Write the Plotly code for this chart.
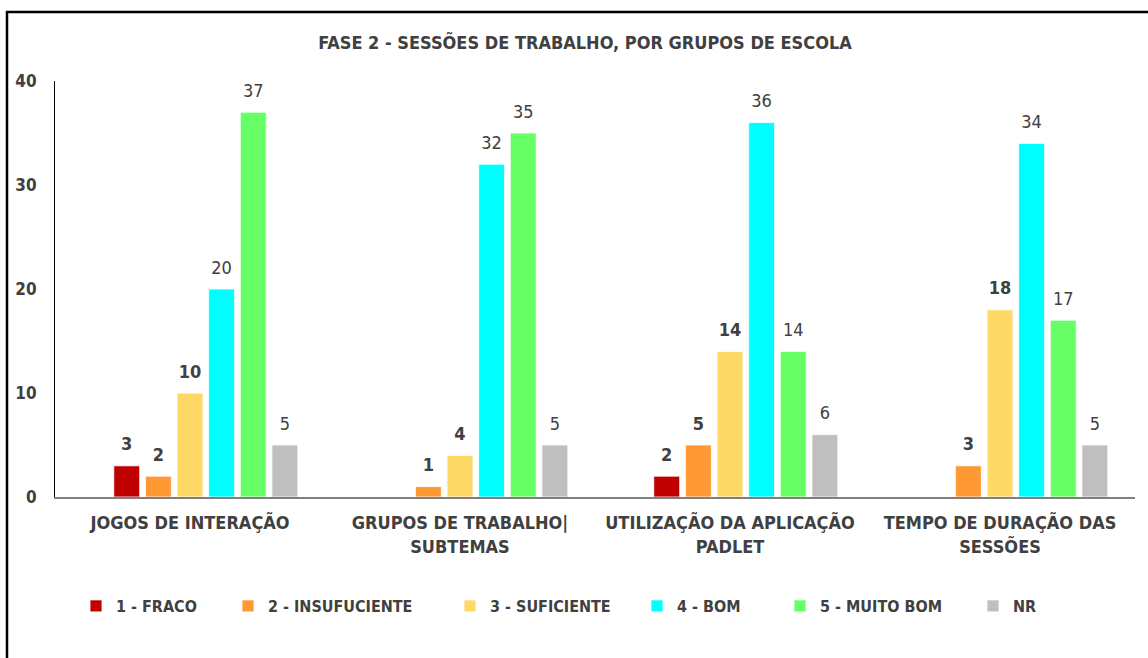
import plotly.graph_objects as go

categories = ["JOGOS DE INTERAÇÃO", "GRUPOS DE TRABALHO|<br>SUBTEMAS",
              "UTILIZAÇÃO DA APLICAÇÃO<br>PADLET", "TEMPO DE DURAÇÃO DAS<br>SESSÕES"]
series_names = ["1 - FRACO", "2 - INSUFUCIENTE", "3 - SUFICIENTE", "4 - BOM", "5 - MUITO BOM", "NR"]
fraco = [3, None, 2, None]
insuficiente = [2, 1, 5, 3]
suficiente = [10, 4, 14, 18]
bom = [20, 32, 36, 34]
muito_bom = [37, 35, 14, 17]
nr = [5, 5, 6, 5]
empty_series = [0, 0, 0, 0]

values = [fraco, insuficiente, suficiente, bom, muito_bom, nr]
colors = ["#C00000", "#FF9933", "#FFD966", "#00FFFF", "#66FF66", "#BFBFBF"]
bold_labels = [True, True, True, False, False, False]
legend_text_x = [116, 268, 490, 677, 820, 1013]

FONT = "Liberation Sans Narrow, DejaVu Sans Condensed, Arial Narrow, sans-serif"
TXT = "#404040"
W, H = 1148, 658
PX0, PX1, PY0, PY1 = 55, 1135, 81, 497
L, T = PX0, PY0
R, B = W - PX1, H - PY1
pw = PX1 - PX0
ph = PY1 - PY0
GAP = 0.18


def px_x(x):
    return (x - PX0) / pw


def px_y(y):
    return (PY1 - y) / ph


fig = go.Figure()
# invisible leading series (empty slot in each group, as in the original chart)
fig.add_trace(go.Bar(x=categories, y=empty_series, showlegend=False, hoverinfo="skip",
                     marker=dict(color="rgba(0,0,0,0)", line=dict(width=0))))
for i, (name, vals, col) in enumerate(zip(series_names, values, colors)):
    fig.add_trace(go.Bar(
        x=categories, y=vals, name=name,
        marker=dict(color=col, line=dict(color="white", width=0.8)),
        legend="legend" if i == 0 else f"legend{i+1}",
    ))

# data labels, grouped the same way as the bars
fig.add_trace(go.Scatter(x=categories, y=empty_series, mode="text", text=["", "", "", ""],
                         showlegend=False, hoverinfo="skip"))
for i, (vals, bold) in enumerate(zip(values, bold_labels)):
    fig.add_trace(go.Scatter(
        x=categories, y=vals, mode="markers+text",
        text=[("" if v is None else str(v)) for v in vals],
        textposition="top center", cliponaxis=False,
        marker=dict(size=16, opacity=0),
        textfont=dict(family=FONT, size=18, color=TXT, weight="bold" if bold else "normal"),
        showlegend=False, hoverinfo="skip",
    ))

legends = {}
for i, tx in enumerate(legend_text_x):
    key = "legend" if i == 0 else f"legend{i+1}"
    legends[key] = dict(orientation="h", x=px_x(tx - 40), xanchor="left",
                        y=px_y(606), yanchor="middle",
                        bgcolor="rgba(0,0,0,0)", borderwidth=0,
                        font=dict(family=FONT, size=16, color=TXT, weight="bold"))

fig.update_layout(
    width=W, height=H,
    margin=dict(l=L, r=R, t=T, b=B),
    paper_bgcolor="white", plot_bgcolor="white",
    barmode="group", bargap=GAP, bargroupgap=0.18,
    scattermode="group", scattergap=GAP,
    title=dict(text="<b>FASE 2 - SESSÕES DE TRABALHO, POR GRUPOS DE ESCOLA</b>",
               x=585 / W, xanchor="center", y=1 - 43 / H, yanchor="middle",
               font=dict(family=FONT, size=18, color=TXT)),
    xaxis=dict(showline=True, linecolor="#7F7F7F", linewidth=1.5, showgrid=False,
               ticks="", tickfont=dict(family=FONT, size=18, color=TXT, weight="bold"),
               ticklabelstandoff=9),
    yaxis=dict(range=[0, 40], dtick=10, showline=True, linecolor="black", linewidth=1,
               showgrid=False, zeroline=False, ticks="",
               tickfont=dict(family=FONT, size=17, color=TXT, weight="bold"),
               ticklabelstandoff=14),
    shapes=[dict(type="rect", xref="paper", yref="paper",
                 x0=px_x(7), x1=px_x(W + 30),
                 y0=px_y(H + 30), y1=px_y(12),
                 line=dict(color="black", width=2.5), fillcolor="rgba(0,0,0,0)", layer="below")],
    **legends,
)

fig.write_html("out.html", config={"displayModeBar": False},
               post_script="document.body.style.margin='0';document.body.style.overflow='hidden';")
